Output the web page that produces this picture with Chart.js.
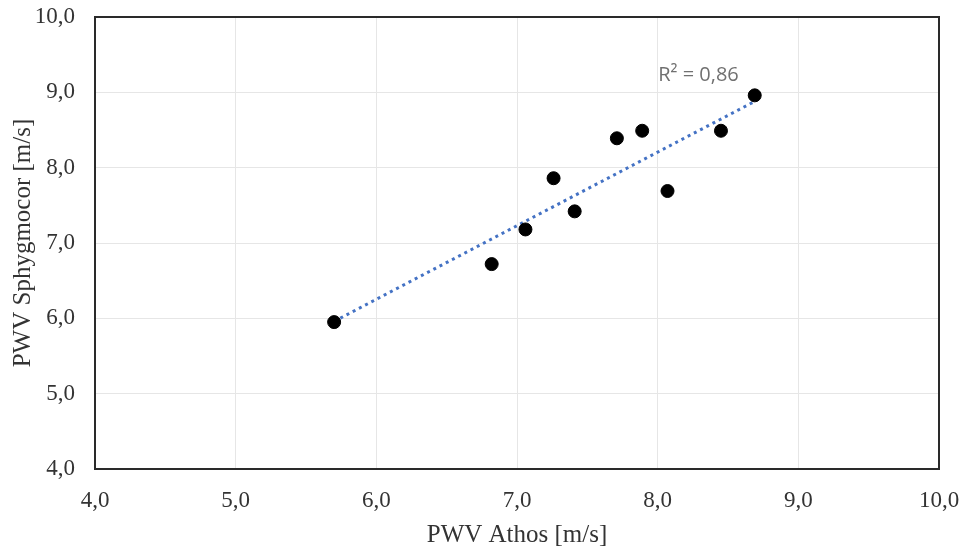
<!DOCTYPE html>
<html>
<head>
<meta charset="utf-8">
<script src="https://cdn.jsdelivr.net/npm/chart.js@4/dist/chart.umd.min.js"></script>
<style>
  html, body { margin: 0; padding: 0; background: #fff; }
  #wrap { width: 966px; height: 551px; }
</style>
</head>
<body>
<div id="wrap"><canvas id="chart"></canvas></div>
<script>
// PWV values
const athos = [5.70, 6.82, 7.06, 7.26, 7.41, 7.71, 7.89, 8.07, 8.45, 8.69];
const sphygmocor = [5.95, 6.72, 7.18, 7.86, 7.42, 8.39, 8.49, 7.69, 8.49, 8.96];

// trend line ends, as drawn
const trendX = [5.70, 8.69];
const trendY = [5.96, 8.88];

const r2Label = "R² = 0,86";
const r2Pos = [8.29, 9.23];

const fmt = (v) => v.toFixed(1).replace(".", ",");

const border = {
  id: "border",
  afterDraw(chart) {
    const { ctx, chartArea: a } = chart;
    ctx.save();
    ctx.strokeStyle = "#2a2a2a";
    ctx.lineWidth = 2;
    ctx.strokeRect(a.left, a.top, a.right - a.left, a.bottom - a.top);
    const x = chart.scales.x.getPixelForValue(r2Pos[0]);
    const y = chart.scales.y.getPixelForValue(r2Pos[1]);
    ctx.fillStyle = "#707070";
    ctx.font = "20px 'Open Sans', sans-serif";
    ctx.textAlign = "center";
    ctx.textBaseline = "middle";
    ctx.fillText(r2Label, x, y);
    ctx.restore();
  },
};

new Chart(document.getElementById("chart"), {
  type: "scatter",
  data: {
    datasets: [
      {
        label: "Trend",
        type: "line",
        data: trendX.map((x, i) => ({ x: x, y: trendY[i] })),
        borderColor: "#4472C4",
        borderWidth: 3,
        borderDash: [3, 4],
        pointRadius: 0,
        fill: false,
        order: 2,
      },
      {
        label: "PWV",
        data: athos.map((x, i) => ({ x: x, y: sphygmocor[i] })),
        backgroundColor: "#000",
        borderColor: "#000",
        pointRadius: 6.5,
        order: 1,
      },
    ],
  },
  options: {
    responsive: true,
    maintainAspectRatio: false,
    animation: false,
    layout: { padding: { top: 17, right: 27, left: 0, bottom: 0 } },
    plugins: { legend: { display: false }, tooltip: { enabled: false } },
    scales: {
      x: {
        type: "linear",
        min: 4,
        max: 10,
        ticks: {
          stepSize: 1,
          callback: fmt,
          color: "#333",
          font: { family: "'Liberation Serif', serif", size: 23 },
          padding: 18,
        },
        grid: { color: "#e6e6e6", drawTicks: false },
        border: { display: false },
        title: {
          display: true,
          text: "PWV Athos [m/s]",
          color: "#333",
          font: { family: "'Liberation Serif', serif", size: 25 },
          padding: { top: 0, bottom: 1 },
        },
        afterFit(scale) {
          scale.height = 82;
          scale.paddingLeft = 0;
          scale.paddingRight = 0;
        },
      },
      y: {
        type: "linear",
        min: 4,
        max: 10,
        ticks: {
          stepSize: 1,
          callback: fmt,
          color: "#333",
          font: { family: "'Liberation Serif', serif", size: 23 },
          padding: 20,
        },
        grid: { color: "#e6e6e6", drawTicks: false },
        border: { display: false },
        title: {
          display: true,
          text: "PWV Sphygmocor [m/s]",
          color: "#333",
          font: { family: "'Liberation Serif', serif", size: 25 },
          padding: { top: 8, bottom: 0 },
        },
        afterFit(scale) {
          scale.width = 95;
          scale.paddingTop = 0;
          scale.paddingBottom = 0;
        },
      },
    },
  },
  plugins: [border],
});
</script>
</body>
</html>
